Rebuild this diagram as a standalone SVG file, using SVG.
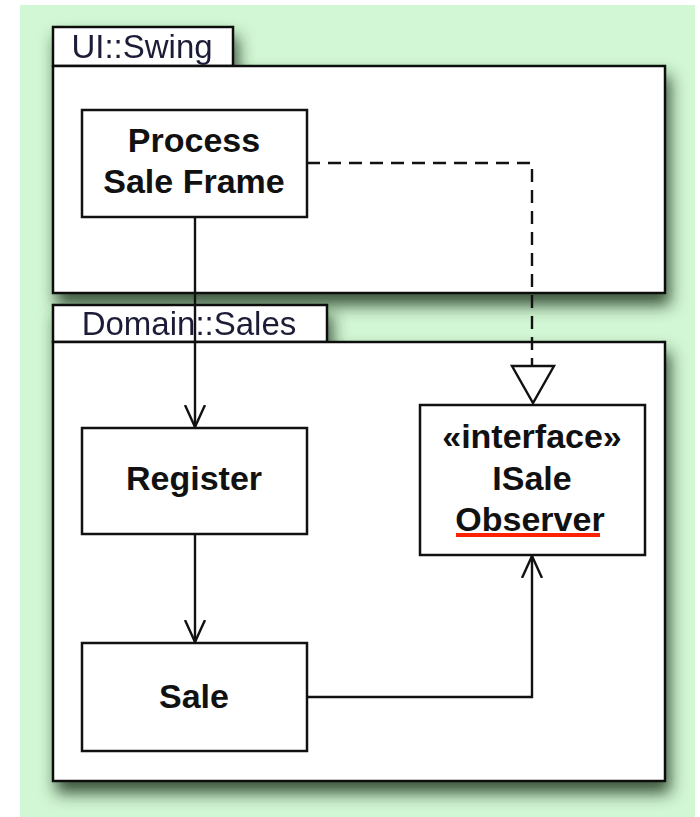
<svg xmlns="http://www.w3.org/2000/svg" width="700" height="817" viewBox="0 0 700 817">
  <defs>
    <style>
      .frame { fill: #ffffff; stroke: #111111; stroke-width: 2.5; }
      .box { fill: #ffffff; stroke: #111111; stroke-width: 2.5; }
      .tabtxt { font-family: "Liberation Sans", Arial, sans-serif; font-size: 33px; fill: #1e1e38; text-anchor: middle; }
      .name { font-family: "Liberation Sans", Arial, sans-serif; font-size: 34px; font-weight: bold; fill: #111111; text-anchor: middle; }
      .edge { fill: none; stroke: #111111; stroke-width: 2.4; }
      .dash { stroke-dasharray: 13 8; }
    </style>
    <filter id="frameShadow" x="-10%" y="-10%" width="125%" height="130%">
      <feDropShadow dx="4" dy="11" stdDeviation="8" flood-color="#1a361c" flood-opacity="0.85"/>
    </filter>
    <marker id="openArrow" viewBox="0 0 24 24" refX="22" refY="12" markerWidth="24" markerHeight="24" markerUnits="userSpaceOnUse" orient="auto">
      <path d="M0,2 L22,12 L0,22" fill="none" stroke="#111111" stroke-width="2.4"/>
    </marker>
  </defs>

  <!-- canvas -->
  <rect x="20" y="5" width="675" height="812" fill="#d2f7d4"/>

  <!-- package UI::Swing -->
  <g id="pkg-ui-swing" filter="url(#frameShadow)">
    <rect class="frame" x="53" y="27" width="180" height="39"/>
    <rect class="frame" x="53" y="66" width="612" height="227"/>
    <text class="tabtxt" x="142" y="58">UI::Swing</text>
  </g>

  <!-- package Domain::Sales -->
  <g id="pkg-domain-sales" filter="url(#frameShadow)">
    <rect class="frame" x="53" y="305" width="274" height="37"/>
    <rect class="frame" x="53" y="342" width="612" height="439"/>
    <text class="tabtxt" x="189" y="335">Domain::Sales</text>
  </g>

  <!-- classes -->
  <g id="process-sale-frame">
    <rect class="box" x="82" y="110" width="225" height="107"/>
    <text class="name" x="194" y="152">Process</text>
    <text class="name" x="194" y="193">Sale Frame</text>
  </g>

  <g id="register">
    <rect class="box" x="82" y="428" width="225" height="106"/>
    <text class="name" x="194" y="490">Register</text>
  </g>

  <g id="sale">
    <rect class="box" x="82" y="643" width="225" height="108"/>
    <text class="name" x="194" y="708">Sale</text>
  </g>

  <g id="isale-observer">
    <rect class="box" x="420" y="405" width="225" height="150"/>
    <text class="name" x="532" y="448">«interface»</text>
    <text class="name" x="532" y="490">ISale</text>
    <text class="name" x="530" y="531">Observer</text>
    <rect x="456" y="533" width="144" height="4" fill="#ff2200"/>
  </g>

  <!-- connectors -->
  <g id="connectors">
    <path class="edge" d="M195,217 L195,427" marker-end="url(#openArrow)"/>
    <path class="edge" d="M195,534 L195,642" marker-end="url(#openArrow)"/>
    <path class="edge" d="M307,697 L532,697 L532,556" marker-end="url(#openArrow)"/>
    <path class="edge dash" d="M307,163 L532,163 L532,366"/>
    <path d="M512,366 L554,366 L533,403 Z" fill="#ffffff" stroke="#111111" stroke-width="2.4" stroke-linejoin="miter"/>
  </g>
</svg>
